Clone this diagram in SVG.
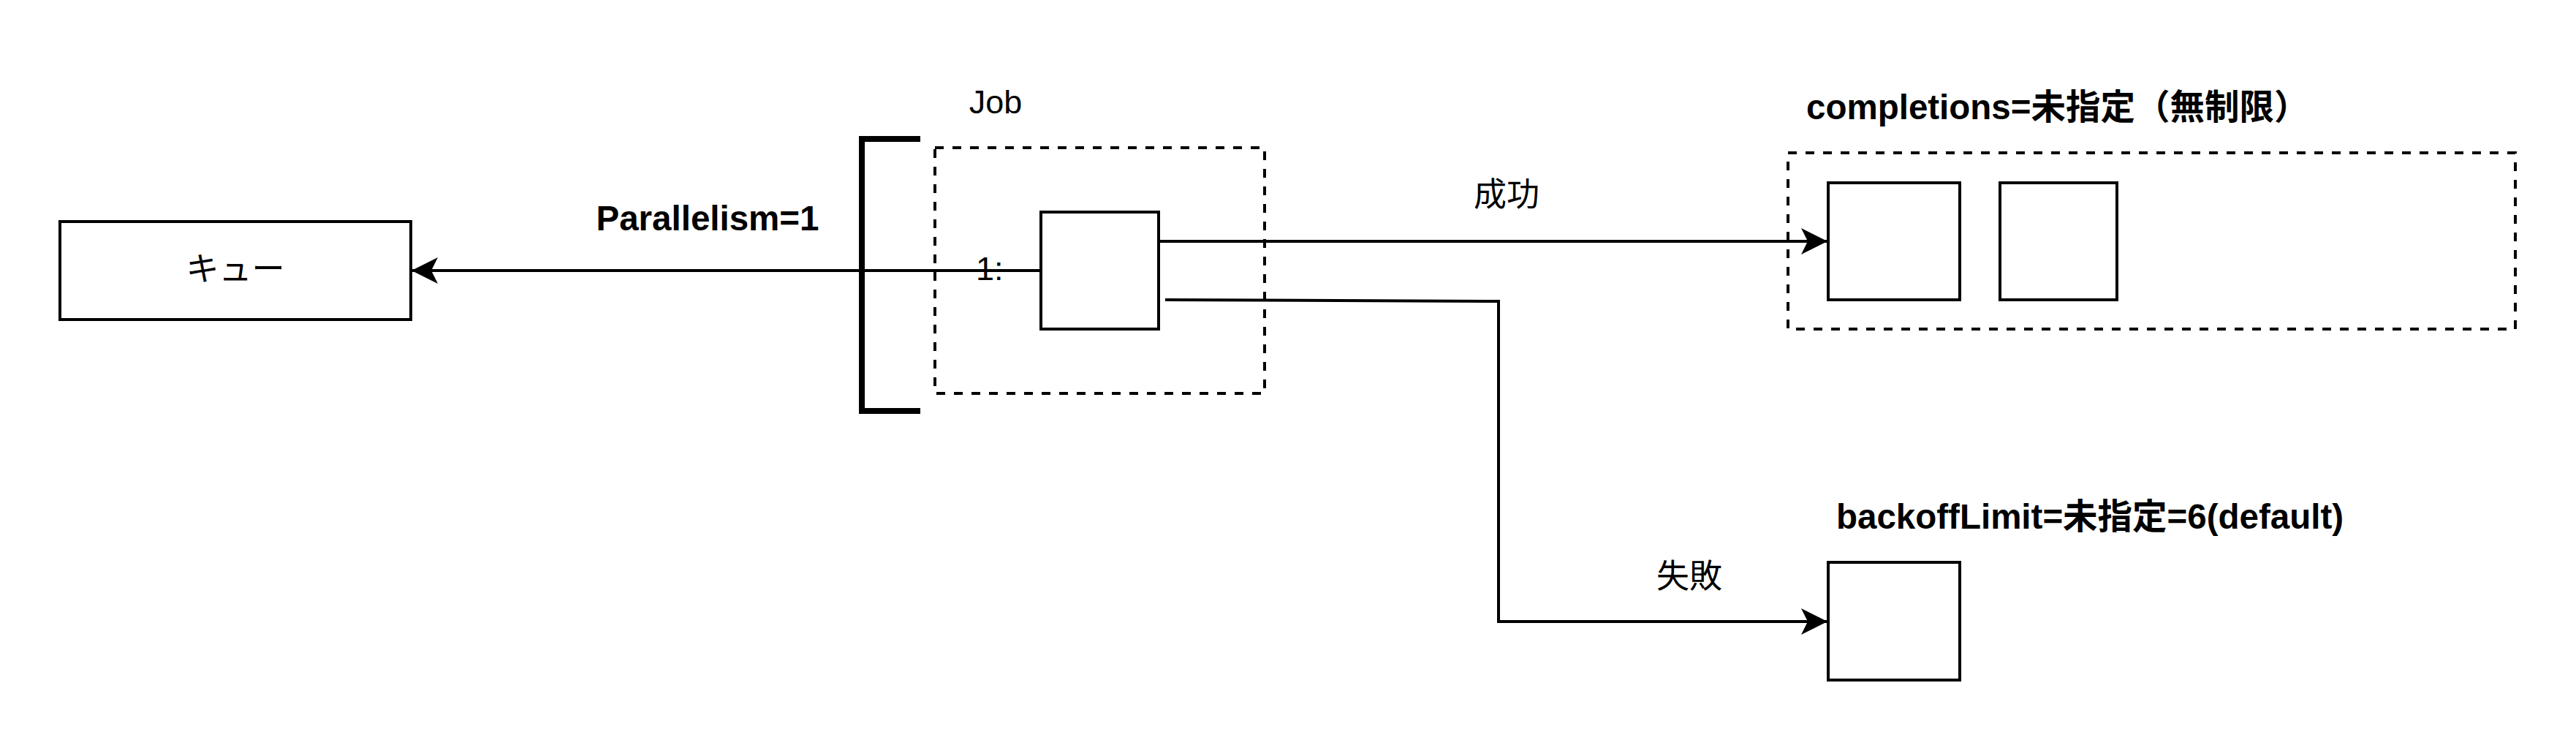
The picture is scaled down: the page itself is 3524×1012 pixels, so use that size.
<svg xmlns="http://www.w3.org/2000/svg" width="3524" height="1012" viewBox="0 0 3524 1012">
  <style>
    .box { fill: #ffffff; stroke: #000000; stroke-width: 4; }
    .dash { fill: none; stroke: #000000; stroke-width: 4; stroke-dasharray: 12 12; }
    .edge { fill: none; stroke: #000000; stroke-width: 4; }
    .bracket { fill: none; stroke: #000000; stroke-width: 8; }
    .t { font-family: "Liberation Sans", Arial, "Noto Sans CJK JP", sans-serif; font-size: 45px; fill: #000000; }
    .b { font-family: "Liberation Sans", Arial, "Noto Sans CJK JP", sans-serif; font-size: 47.5px; font-weight: bold; fill: #000000; }
  </style>
  <defs>
    <marker id="arrow" markerUnits="userSpaceOnUse" viewBox="0 0 36 36" refX="36" refY="18" markerWidth="36" markerHeight="36" orient="auto">
      <path d="M0,0 L36,18 L0,36 L9,18 Z" fill="#000000"/>
    </marker>
  </defs>
  <rect width="3524" height="1012" fill="#ffffff"/>

  <g id="job-group">
    <rect class="dash" x="1279" y="202" width="451" height="336"/>
    <text class="t" x="1362" y="155" text-anchor="middle">Job</text>
  </g>

  <g id="completions-group">
    <rect class="dash" x="2446" y="209" width="995" height="241"/>
    <text class="b" x="2471" y="163">completions=未指定（無制限）</text>
  </g>

  <g id="connectors">
    <path class="edge" d="M1424,370 L563,370" marker-end="url(#arrow)"/>
    <path class="edge" d="M1586,330 L2500,330" marker-end="url(#arrow)"/>
    <path class="edge" d="M1594,410 L2050,412 L2050,850 L2500,850" marker-end="url(#arrow)"/>
    <text class="b" x="968" y="315" text-anchor="middle">Parallelism=1</text>
    <text class="t" x="2061" y="282" text-anchor="middle">成功</text>
    <text class="t" x="2311" y="804" text-anchor="middle">失敗</text>
  </g>

  <g id="parallel-bracket">
    <path class="bracket" d="M1259,190 L1179,190 L1179,562 L1259,562"/>
    <text class="t" x="1335" y="383">1:</text>
  </g>

  <g id="queue">
    <rect class="box" x="82" y="303" width="480" height="134"/>
    <text class="t" x="322" y="384" text-anchor="middle">キュー</text>
  </g>

  <g id="job-pod">
    <rect class="box" x="1424" y="290" width="161" height="160"/>
  </g>

  <g id="completed-pod-1">
    <rect class="box" x="2501" y="250" width="180" height="160"/>
  </g>

  <g id="completed-pod-2">
    <rect class="box" x="2736" y="250" width="160" height="160"/>
  </g>

  <g id="failed-pod">
    <rect class="box" x="2501" y="769" width="180" height="161"/>
    <text class="b" x="2512" y="723">backoffLimit=未指定=6(default)</text>
  </g>
</svg>
